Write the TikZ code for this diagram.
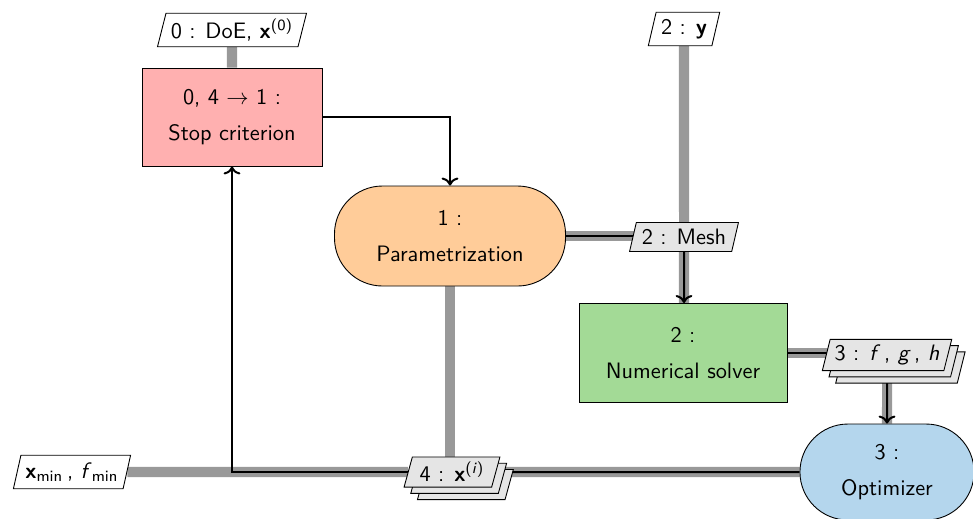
\documentclass[tikz,border=0pt]{standalone}
\usepackage{amsmath}
\usepackage{xcolor}
\usepackage{tikz}
\usetikzlibrary{arrows.meta, shapes.geometric, shadows}
\definecolor{stopred}{RGB}{255,176,176}
\definecolor{paramorange}{RGB}{255,204,153}
\definecolor{solvergreen}{RGB}{163,218,150}
\definecolor{optblue}{RGB}{180,214,237}
\pgfdeclarelayer{back}
\pgfsetlayers{back,main}

\begin{document}
\begin{tikzpicture}[x=0.448pt, y=-0.448pt, font=\sffamily,
  fnbox/.style={draw, align=center, minimum width=80.6pt, minimum height=43.9pt},
  roundbox/.style={fnbox, rounded corners=21.5pt},
  datain/.style={draw, fill=white, trapezium, trapezium left angle=75,
    trapezium right angle=105, trapezium stretches=true, inner sep=2pt,
    minimum height=15pt},
  dataio/.style={datain, fill=black!10},
  stacked/.style={double copy shadow={shadow xshift=3pt, shadow yshift=-2.8pt}},
  dataline/.style={line width=4.5pt, black!40},
  procline/.style={line width=0.9pt, black}]
\useasboundingbox (0,0) rectangle (973,518);

% blocks
\node[fnbox, fill=stopred] (stop) at (232,117) {0, 4 $\rightarrow$ 1 :\\[4pt]Stop criterion};
\node[roundbox, fill=paramorange, minimum width=103.5pt, minimum height=44.8pt] (param) at (450,236) {1 :\\[4pt]Parametrization};
\node[fnbox, fill=solvergreen, minimum width=93.2pt, minimum height=44.4pt] (solver) at (683,353) {2 :\\[4pt]Numerical solver};
\node[roundbox, fill=optblue, minimum width=78pt, minimum height=43pt] (opt) at (887,472) {3 :\\[4pt]Optimizer};

% data
\node[datain, minimum width=67pt] (doe) at (232,30) {0 : DoE, \textbf{x}\textsuperscript{(0)}};
\node[datain, minimum width=32pt] (yin) at (684,29) {2 : \textbf{y}};
\node[dataio, minimum width=49pt, minimum height=13pt] (mesh) at (684,237) {2 : Mesh};
\node[dataio, stacked, minimum width=54pt, minimum height=14pt] (fgh) at (887,355) {3 : \textit{f}\,, \textit{g}\,, \textit{h}};
\node[dataio, stacked, minimum width=43pt, minimum height=13.5pt] (xi) at (452,472) {4 : \textbf{x}\textsuperscript{(\textit{i})}};
\node[datain, minimum width=51pt] (xout) at (72,472) {\textbf{x}\textsubscript{min}\,, \textit{f}\textsubscript{min}};

\begin{pgfonlayer}{back}
% data flow
\draw[dataline] (doe) -- (stop);
\draw[dataline] (yin) -- (mesh);
\draw[dataline] (param) -- (param -| mesh);
\draw[dataline] (mesh) -- (mesh |- solver.north);
\draw[dataline] (solver) -- (solver -| fgh);
\draw[dataline] (fgh) -- (fgh |- opt.north);
\draw[dataline] (opt) -- (xi);
\draw[dataline] (xi) -- (xout);
\draw[dataline] (param) -- (param |- xi);
% process flow
\draw[procline, ->] (stop.east) -| (param.north);
\draw[procline] (param) -- (param -| mesh);
\draw[procline, ->] (mesh) -- (mesh |- solver.north);
\draw[procline] (solver) -- (solver -| fgh);
\draw[procline, ->] (fgh) -- (fgh |- opt.north);
\draw[procline] (opt) -- (xi);
\draw[procline, ->] (xi) -| (stop.south);
\end{pgfonlayer}
\end{tikzpicture}
\end{document}
